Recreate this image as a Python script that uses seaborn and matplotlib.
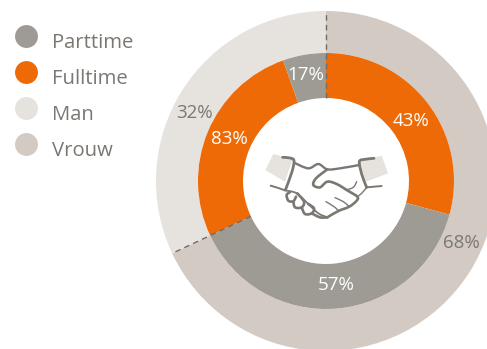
import numpy as np
import matplotlib
matplotlib.use("Agg")
import matplotlib.pyplot as plt
from matplotlib.path import Path
from matplotlib.patches import PathPatch, Polygon
import seaborn as sns

# Gender split and, per gender, the share of full-time and part-time workers
genders = ["Vrouw", "Man"]
gender_pct = [68, 32]
vrouw_pct = {"Fulltime": 43, "Parttime": 57}
man_pct = {"Fulltime": 83, "Parttime": 17}
legend_labels = ["Parttime", "Fulltime", "Man", "Vrouw"]

GRAY, ORANGE, LIGHT, TAUPE = "#9e9b95", "#ee6a07", "#e6e3df", "#d3cbc3"
palette = sns.color_palette([GRAY, ORANGE, LIGHT, TAUPE])
TEXT = "#7b7772"
W, H = 487, 349


def py(y):
    return H - y


sns.set_theme(style="white")
plt.rcParams["font.family"] = ["Open Sans", "DejaVu Sans"]

fig = plt.figure(figsize=(W / 100, H / 100), dpi=100)
ax = fig.add_axes([0, 0, 1, 1])

cx, cy = 326, py(181)
R_OUT, R_MID, R_HOLE = 170, 128, 83

# Outer ring: gender split, clockwise from twelve o'clock
ax.pie(gender_pct, radius=R_OUT, center=(cx, cy), startangle=90, counterclock=False,
       colors=[palette[3], palette[2]], normalize=True, frame=True,
       wedgeprops=dict(width=R_OUT - R_MID, linewidth=0))

# Inner ring: each gender's wedge subdivided by working hours
inner = [gender_pct[0] * vrouw_pct["Fulltime"] / 100,
         gender_pct[0] * vrouw_pct["Parttime"] / 100,
         gender_pct[1] * man_pct["Fulltime"] / 100,
         gender_pct[1] * man_pct["Parttime"] / 100]
ax.pie(inner, radius=R_MID, center=(cx, cy), startangle=90, counterclock=False,
       colors=[palette[1], palette[0], palette[1], palette[0]], normalize=True, frame=True,
       wedgeprops=dict(width=R_MID - R_HOLE, linewidth=0))

ax.set_xlim(0, W)
ax.set_ylim(0, H)
ax.set_aspect("equal")
ax.axis("off")

# Dashed separators at the two gender boundaries
for share in [0, gender_pct[0]]:
    a = np.pi / 2 - 2 * np.pi * share / 100
    ax.plot([cx + R_HOLE * np.cos(a), cx + R_OUT * np.cos(a)],
            [cy + R_HOLE * np.sin(a), cy + R_OUT * np.sin(a)],
            color="#6f6d69", lw=1.0, ls=(0, (4, 3)), zorder=5)

# Percentage labels
label_font = dict(ha="center", va="center", fontsize=13.5, zorder=6)
for val, x, y, col in [(vrouw_pct["Fulltime"], 411, 120.5, "white"),
                       (vrouw_pct["Parttime"], 336, 285.5, "white"),
                       (man_pct["Fulltime"], 229, 138.5, "white"),
                       (man_pct["Parttime"], 306, 75.5, "white"),
                       (gender_pct[1], 194.5, 113.5, TEXT),
                       (gender_pct[0], 461, 242.5, TEXT)]:
    ax.text(x, py(y), f"{val}%", color=col, **label_font)

# Key in the upper left: round swatches with the text baseline sitting below them
for i, (label, colour) in enumerate(zip(legend_labels, palette)):
    ax.plot([25.5], [py(36 + 36 * i)], ls="", marker="o", ms=16.5, mfc=colour, mec=colour, mew=0)
    ax.text(52, py(47.5 + 36 * i), label, color=TEXT, fontsize=14.6, ha="left", va="baseline")


# Handshake icon in the hole of the ring
def smooth(points):
    """Catmull-Rom curve through the points, as a cubic Bezier path."""
    p = np.array(points, dtype=float)
    ext = np.vstack([p[0], p, p[-1]])
    verts, codes = [p[0]], [Path.MOVETO]
    for i in range(1, len(ext) - 2):
        c1 = ext[i] + (ext[i + 1] - ext[i - 1]) / 6
        c2 = ext[i + 1] - (ext[i + 2] - ext[i]) / 6
        verts += [c1, c2, ext[i + 1]]
        codes += [Path.CURVE4] * 3
    return Path(verts, codes)


def icon_xy(points):
    return [(240 + x / 3, py(130 + y / 3)) for x, y in points]


for cuff in ([(100, 72), (158, 88), (135, 155), (76, 120)],
             [(358, 95), (425, 77), (444, 130), (378, 155)]):
    ax.add_patch(Polygon(icon_xy(cuff), closed=True, fc=LIGHT, ec="none", zorder=3))

ICON = "#7b7772"
strokes = [
    (2.0, [(128, 82), (150, 84), (162, 92), (156, 125), (137, 178)]),
    (1.4, [(92, 167), (115, 174), (137, 182)]),
    (1.7, [(162, 98), (205, 115), (235, 102), (262, 118), (300, 115), (358, 105)]),
    (2.0, [(402, 85), (375, 88), (358, 95), (366, 135), (380, 172)]),
    (1.4, [(380, 172), (425, 168)]),
    (1.9, [(262, 118), (228, 145), (220, 165), (240, 172), (262, 155), (290, 162),
           (325, 183), (352, 200), (350, 212), (328, 230), (295, 243), (262, 262)]),
    (1.3, [(140, 182), (170, 190), (205, 222), (235, 250), (262, 262)]),
    (1.9, [(150, 186), (140, 195), (145, 212), (160, 214), (168, 200)]),
    (1.9, [(160, 214), (165, 232), (185, 232), (192, 215), (172, 190)]),
    (1.9, [(185, 232), (195, 252), (215, 250), (222, 235), (205, 222)]),
    (1.9, [(215, 250), (240, 262), (262, 262)]),
    (1.0, [(285, 203), (310, 215), (328, 230)]),
    (1.0, [(258, 215), (285, 232), (295, 243)]),
    (1.0, [(318, 180), (340, 172), (350, 155)]),
    (1.0, [(352, 200), (365, 190), (380, 172)]),
]
for lw, pts in strokes:
    ax.add_patch(PathPatch(smooth(icon_xy(pts)), fc="none", ec=ICON, lw=lw,
                           capstyle="round", joinstyle="round", zorder=4))

fig.savefig("out.png", dpi=100)
